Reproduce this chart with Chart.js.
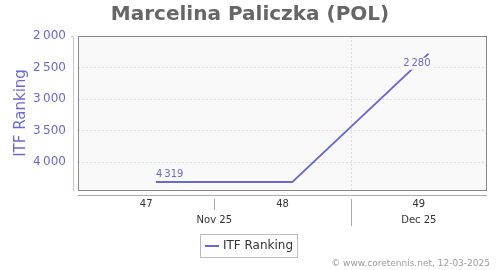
<!DOCTYPE html>
<html>
<head>
<meta charset="utf-8">
<script src="https://cdn.jsdelivr.net/npm/chart.js@4.4.0/dist/chart.umd.min.js"></script>
<style>
  html, body { margin: 0; padding: 0; background: #fff; }
</style>
</head>
<body>
<canvas id="myChart" width="500" height="270"></canvas>
<script>
'use strict';

// Datos (dias contados desde el lunes 17 nov 2025)
const weekLabels = ['47', '48', '49'];
const weekCenters = [3.5, 10.5, 17.5];
const weekBounds = [7, 14];
const monthLabels = ['Nov 25', 'Dec 25'];
const monthCenters = [7, 17.5];
const monthBounds = [14];
const pointDays = [4, 11, 18];
const rankings = [4319, 4319, 2280];
const yTicks = [2000, 2500, 3000, 3500, 4000];

const seriesColor = '#6a6acd';
const plotBg = '#f9f9f9';

Chart.defaults.font.family = "'DejaVu Sans', Verdana, sans-serif";

function fmt(v) {
  return String(v).replace(/\B(?=(\d{3})+(?!\d))/g, '\u2009');
}

// Fondo, bordes, separadores, etiquetas y creditos
const decor = {
  id: 'decor',
  beforeDraw(chart) {
    const a = chart.chartArea;
    const ctx = chart.ctx;
    ctx.save();
    ctx.fillStyle = plotBg;
    ctx.fillRect(a.left, a.top, a.right - a.left, a.bottom - a.top);
    ctx.restore();
  },
  beforeDatasetsDraw(chart) {
    const a = chart.chartArea;
    const ctx = chart.ctx;
    const x = chart.scales.x;
    ctx.save();
    ctx.strokeStyle = '#ddd';
    ctx.lineWidth = 1;
    ctx.setLineDash([2, 2]);
    monthBounds.forEach(d => {
      const px = Math.round(x.getPixelForValue(d)) + 0.5;
      ctx.beginPath();
      ctx.moveTo(px, a.top);
      ctx.lineTo(px, a.bottom);
      ctx.stroke();
    });
    ctx.restore();
  },
  afterDatasetsDraw(chart) {
    const ctx = chart.ctx;
    const meta = chart.getDatasetMeta(0);
    ctx.save();
    ctx.font = "10px 'DejaVu Sans'";
    ctx.textBaseline = 'middle';
    meta.data.forEach((pt, i) => {
      // solo donde cambia el valor
      if (i > 0 && rankings[i] === rankings[i - 1]) return;
      const txt = fmt(rankings[i]);
      const w = ctx.measureText(txt).width;
      const last = i === meta.data.length - 1;
      const tx = last ? pt.x - w + 2 : pt.x;
      const ty = last ? pt.y + 10 : pt.y - 8;
      ctx.fillStyle = plotBg;
      ctx.fillRect(tx - 1, ty - 6, w + 2, 12);
      ctx.fillStyle = seriesColor;
      ctx.textAlign = 'left';
      ctx.fillText(txt, tx, ty);
    });
    ctx.restore();
  },
  afterDraw(chart) {
    const a = chart.chartArea;
    const ctx = chart.ctx;
    const x = chart.scales.x;
    ctx.save();
    // borde del area
    ctx.strokeStyle = '#888';
    ctx.lineWidth = 1;
    ctx.strokeRect(a.left + 0.5, a.top + 0.5, a.right - a.left - 1, a.bottom - a.top);
    // eje y
    ctx.strokeStyle = '#c4c4e6';
    ctx.beginPath();
    ctx.moveTo(a.left - 4.5, a.top);
    ctx.lineTo(a.left - 4.5, a.bottom + 1);
    ctx.moveTo(a.left - 7, a.top + 0.5);
    ctx.lineTo(a.left - 4, a.top + 0.5);
    ctx.stroke();
    // eje x
    ctx.strokeStyle = '#aaa';
    ctx.beginPath();
    ctx.moveTo(a.left, a.bottom + 5.5);
    ctx.lineTo(a.right, a.bottom + 5.5);
    ctx.stroke();
    weekBounds.forEach(d => {
      const px = Math.round(x.getPixelForValue(d)) + 0.5;
      const long = monthBounds.includes(d);
      ctx.beginPath();
      ctx.moveTo(px, a.bottom + 9);
      ctx.lineTo(px, a.bottom + (long ? 36 : 20));
      ctx.stroke();
    });
    // etiquetas de semanas y meses
    ctx.fillStyle = '#333';
    ctx.font = "10px 'DejaVu Sans'";
    ctx.textAlign = 'center';
    ctx.textBaseline = 'middle';
    weekCenters.forEach((d, i) => {
      ctx.fillText(weekLabels[i], x.getPixelForValue(d), a.bottom + 14);
    });
    monthCenters.forEach((d, i) => {
      ctx.fillText(monthLabels[i], x.getPixelForValue(d), a.bottom + 30);
    });
    // caja de la leyenda
    const hb = chart.legend.legendHitBoxes[0];
    if (hb) {
      ctx.strokeStyle = '#bbb';
      ctx.strokeRect(Math.round(hb.left) - 6.5, Math.round(hb.top) - 5.5, Math.round(hb.width) + 11, Math.round(hb.height) + 11);
    }
    // creditos
    ctx.fillStyle = '#999';
    ctx.font = "9px 'DejaVu Sans'";
    ctx.textAlign = 'right';
    ctx.fillText('\u00a9 www.coretennis.net, 12-03-2025', 490, 264);
    ctx.restore();
  }
};

const ctx = document.getElementById('myChart').getContext('2d');
const myChart = new Chart(ctx, {
  type: 'line',
  data: {
    datasets: [{
      label: 'ITF Ranking',
      data: pointDays.map((d, i) => ({ x: d, y: rankings[i] })),
      borderColor: seriesColor,
      backgroundColor: seriesColor,
      borderWidth: 2,
      pointRadius: 0,
      tension: 0
    }]
  },
  options: {
    responsive: false,
    animation: false,
    devicePixelRatio: 1,
    layout: { padding: { left: 0, right: 0, top: 0, bottom: 8 } },
    scales: {
      x: {
        type: 'linear',
        position: 'bottom',
        min: 0,
        max: 21,
        grid: { display: false },
        border: { display: false },
        afterBuildTicks: s => { s.ticks = weekCenters.map(v => ({ value: v })); },
        afterFit: s => { s.height = 40; },
        ticks: { display: false }
      },
      y: {
        type: 'linear',
        reverse: true,
        min: 2000,
        max: 4444,
        afterBuildTicks: s => { s.ticks = yTicks.map(v => ({ value: v })); },
        afterFit: s => { s.width = 78; },
        grid: { color: '#ddd', drawTicks: false },
        border: { display: false, dash: [2, 2] },
        ticks: {
          color: seriesColor,
          font: { size: 12 },
          padding: 12,
          callback: v => fmt(v)
        },
        title: {
          display: true,
          text: 'ITF Ranking',
          color: seriesColor,
          font: { size: 15 },
          padding: { top: 12, bottom: 0 }
        }
      },
      // margen derecho vacio
      yRight: {
        type: 'linear',
        position: 'right',
        grid: { display: false },
        border: { display: false },
        ticks: { display: false },
        afterFit: s => { s.width = 13; }
      }
    },
    plugins: {
      title: {
        display: true,
        text: 'Marcelina Paliczka (POL)',
        color: '#666',
        font: { size: 20, weight: 'bold' },
        padding: { top: 3, bottom: 9 }
      },
      legend: {
        position: 'bottom',
        labels: {
          color: '#333',
          font: { size: 12 },
          usePointStyle: true,
          pointStyle: 'line',
          boxWidth: 10,
          boxHeight: 10,
          padding: 10
        }
      },
      tooltip: { enabled: false }
    }
  },
  plugins: [decor]
});
</script>
</body>
</html>
